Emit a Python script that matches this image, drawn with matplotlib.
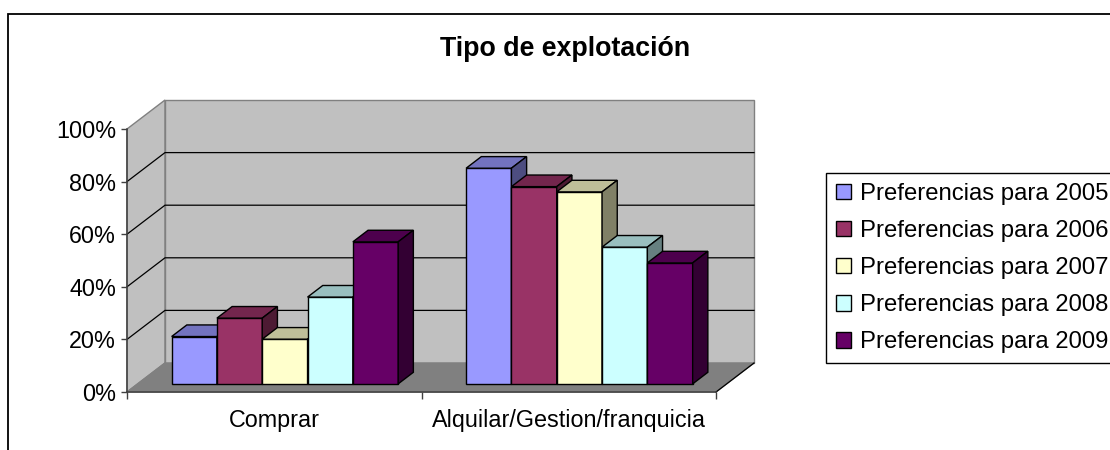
import matplotlib.pyplot as plt
from matplotlib.patches import Polygon, Rectangle, Patch
from matplotlib.colors import to_rgb

plt.rcParams['font.family'] = ['Liberation Sans', 'DejaVu Sans']

# datos: preferencias (%) por tipo de explotación
categorias = ['Comprar', 'Alquilar/Gestion/franquicia']
anios = ['Preferencias para 2005', 'Preferencias para 2006', 'Preferencias para 2007',
         'Preferencias para 2008', 'Preferencias para 2009']
pref_2005 = [18, 82]
pref_2006 = [25, 75]
pref_2007 = [17, 73]
pref_2008 = [33, 52]
pref_2009 = [54, 46]
series = [pref_2005, pref_2006, pref_2007, pref_2008, pref_2009]
colores = ['#9999FF', '#993366', '#FFFFCC', '#CCFFFF', '#660066']
yticks = [0, 20, 40, 60, 80, 100]


def sombra(c, f):
    r, g, b = to_rgb(c)
    return (r * f, g * f, b * f)


W, H = 1110, 450
fig = plt.figure(figsize=(W / 100, H / 100), dpi=100)
ax = fig.add_axes([127 / W, 58 / H, 589 / W, 263 / H])
ax.set_xlim(0, 2)
ax.set_ylim(0, 100)
ax.set_facecolor('none')

# desplazamiento de profundidad (oblicuo) en unidades de datos
DX = 38 / (589 / 2)
DY = 29 / (263 / 100)

gris_pared = '#C0C0C0'
gris_suelo = '#808080'
borde = '#808080'

# pared izquierda, pared del fondo y suelo
ax.add_patch(Polygon([(0, 0), (0, 100), (DX, 100 + DY), (DX, DY)], closed=True,
                     facecolor=gris_pared, edgecolor=borde, lw=1, clip_on=False, zorder=0))
ax.add_patch(Rectangle((DX, DY), 2, 100, facecolor=gris_pared, edgecolor=borde,
                       lw=1, clip_on=False, zorder=0))
ax.add_patch(Polygon([(0, 0), (2, 0), (2 + DX, DY), (DX, DY)], closed=True,
                     facecolor=gris_suelo, edgecolor=borde, lw=1, clip_on=False, zorder=0.5))
ax.plot([2, 2 + DX], [0, DY], color='black', lw=0.9, clip_on=False, zorder=0.6)

# líneas de división
for v in yticks[1:-1]:
    ax.plot([0, DX, 2 + DX], [v, v + DY, v + DY], color='black', lw=0.9,
            clip_on=False, zorder=1)

# barras 3D
n = len(series)
gap = 1.5
w = 1 / (n + gap)
d0, d1 = 0.28, 0.68
bd = d1 - d0
z = 2
for i in range(len(categorias)):
    for j, vals in enumerate(series):
        v = vals[i]
        x0 = i + gap * w / 2 + j * w + d0 * DX
        x1 = x0 + w
        y0 = d0 * DY
        y1 = y0 + v
        c = colores[j]
        ax.add_patch(Rectangle((x0, y0), w, v, facecolor=c, edgecolor='black',
                               lw=1, clip_on=False, zorder=z))
        ax.add_patch(Polygon([(x0, y1), (x1, y1), (x1 + bd * DX, y1 + bd * DY),
                              (x0 + bd * DX, y1 + bd * DY)], closed=True,
                             facecolor=sombra(c, 0.75), edgecolor='black', lw=1,
                             clip_on=False, zorder=z))
        ax.add_patch(Polygon([(x1, y0), (x1, y1), (x1 + bd * DX, y1 + bd * DY),
                              (x1 + bd * DX, y0 + bd * DY)], closed=True,
                             facecolor=sombra(c, 0.5), edgecolor='black', lw=1,
                             clip_on=False, zorder=z))
        z += 0.1

# ejes
for s in ['top', 'right']:
    ax.spines[s].set_visible(False)
for s in ['left', 'bottom']:
    ax.spines[s].set_color('#404040')
    ax.spines[s].set_linewidth(1.1)
    ax.spines[s].set_zorder(20)

ax.set_yticks(yticks)
ax.set_yticklabels([f'{t}%' for t in yticks])
ax.tick_params(axis='y', direction='out', length=4, width=1, color='#404040',
               pad=4, labelsize=16.8)
ax.set_xticks([0, 1, 2])
ax.set_xticklabels([])
ax.set_xticks([0.5, 1.5], minor=True)
ax.set_xticklabels(categorias, minor=True)
ax.tick_params(axis='x', which='major', direction='out', length=5, width=1, color='#404040')
ax.tick_params(axis='x', which='minor', length=0, pad=12, labelsize=16.8)

fig.text(565 / W, 1 - 56 / H, 'Tipo de explotación', ha='center', va='baseline',
         fontsize=19.3, fontweight='bold')

handles = [Patch(facecolor=c, edgecolor='black', lw=1) for c in colores]
leg = fig.legend(handles, anios, loc='upper left', bbox_to_anchor=(826 / W, 1 - 173 / H),
                 fontsize=17.2, frameon=True, fancybox=False, framealpha=1,
                 edgecolor='black', handlelength=0.62, handleheight=0.62,
                 handletextpad=0.4, labelspacing=0.63, borderpad=0.42,
                 borderaxespad=0)
leg.get_frame().set_linewidth(1)

# marco exterior del gráfico
fig.patches.append(Rectangle((8 / W, -0.2), 2, (H - 14) / H + 0.2, transform=fig.transFigure,
                             fill=False, edgecolor='black', lw=1.3))

fig.savefig('out.png', dpi=100)
